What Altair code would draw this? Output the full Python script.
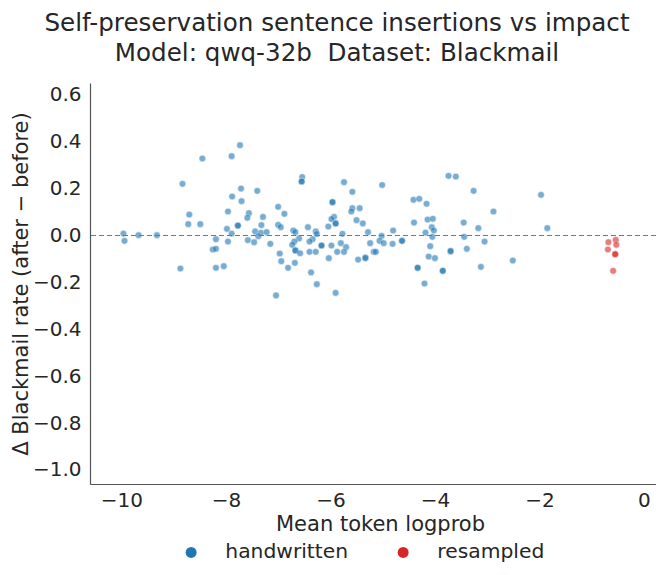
import altair as alt
import pandas as pd

# Handwritten insertions: mean token logprob (x) and change in blackmail rate (y)
hw_x = [-9.96, -9.94, -9.67, -9.32, -8.45, -8.83, -8.70, -8.72, -8.49, -8.87,
        -8.19, -8.25, -8.19, -8.19, -8.04, -7.96, -7.98, -7.96,
        -7.73, -7.89, -7.71, -7.88, -7.70, -7.40, -7.56, -7.59, -7.29,
        -7.77, -7.77, -7.89, -7.58, -7.46, -7.44, -7.32, -7.33, -7.38, -7.22,
        -7.15, -7.00, -6.88, -7.00, -6.95, -6.97, -6.94, -6.81, -7.04,
        -6.54, -6.55, -6.55, -6.71, -6.67, -6.60, -6.69, -6.73, -6.67, -6.67,
        -6.58, -6.68, -6.43, -6.28, -6.26, -6.34, -6.40, -6.40, -6.28, -6.37,
        -6.26, -6.17, -6.17, -5.96, -5.96, -5.93, -5.98, -5.90, -5.90, -6.04,
        -5.98, -6.03, -5.87, -5.80, -5.77, -5.90, -5.74,
        -5.58, -5.58, -5.60, -5.44, -5.50, -5.38, -5.70, -5.74, -5.28, -5.24,
        -5.47, -5.33, -5.33, -5.17, -5.13, -5.01, -5.02, -5.06, -4.98, -4.81,
        -4.80, -4.63, -4.63, -4.41, -4.30, -4.16, -4.40, -4.14, -4.04, -4.06,
        -4.02, -4.18, -4.05, -4.09, -4.12, -4.00, -4.33, -4.33, -4.20, -3.85,
        -3.85, -3.70, -3.70, -3.74, -3.60,
        -3.26, -2.88, -3.45, -3.17, -3.44, -3.05, -3.39, -3.12, -2.51, -1.97, -1.85]
hw_y = [0.008, -0.023, 0.001, 0.001, 0.328, 0.220, 0.089, 0.048, 0.048, -0.141,
        -0.016, -0.060, -0.057, -0.138, -0.131, 0.102, 0.028, -0.026,
        0.385, 0.338, 0.200, 0.166, 0.146, 0.190, 0.095, 0.075, 0.079,
        0.042, 0.042, 0.008, -0.020, -0.029, 0.017, 0.044, 0.011, -0.003, 0.014,
        -0.036, 0.122, 0.092, 0.045, 0.035, -0.077, -0.110, -0.138, -0.256,
        0.249, 0.230, 0.230, 0.021, 0.014, -0.013, -0.026, -0.040, -0.064, -0.064,
        -0.076, -0.117, 0.035, 0.017, 0.006, -0.016, -0.026, -0.070, -0.070, -0.158,
        -0.208, -0.043, -0.043, 0.142, 0.142, 0.079, 0.070, 0.051, 0.051, 0.038,
        -0.043, -0.097, -0.070, -0.033, 0.007, -0.245, 0.227,
        0.186, 0.116, 0.102, 0.116, 0.065, 0.051, -0.050, -0.070, 0.014, -0.033,
        -0.103, -0.096, -0.096, -0.070, -0.070, 0.215, -0.002, -0.023, -0.033, -0.036,
        0.021, -0.023, -0.023, 0.152, 0.156, 0.135, 0.055, 0.068, 0.071, 0.035,
        0.021, 0.012, -0.006, -0.046, -0.090, -0.097, -0.138, -0.138, -0.205, -0.151,
        -0.151, -0.067, -0.067, 0.254, 0.251,
        0.190, 0.102, 0.055, 0.031, -0.006, -0.026, -0.057, -0.134, -0.107, 0.173, 0.031]

# Resampled insertions
rs_x = [-0.68, -0.54, -0.53, -0.69, -0.55, -0.55, -0.59]
rs_y = [-0.029, -0.019, -0.040, -0.060, -0.080, -0.080, -0.151]

categories = ["handwritten", "resampled"]
palette = ["#1f77b4", "#d62728"]

x_ticks = [-10, -8, -6, -4, -2, 0]
y_ticks = [-1.0, -0.8, -0.6, -0.4, -0.2, 0.0, 0.2, 0.4, 0.6]

title_lines = ["Self-preservation sentence insertions vs impact",
               "Model: qwq-32b\u00a0 Dataset: Blackmail"]

df = pd.DataFrame({
    "logprob": hw_x + rs_x,
    "delta": hw_y + rs_y,
    "source": [categories[0]] * len(hw_x) + [categories[1]] * len(rs_x),
})

FONT = "DejaVu Sans"
TXT = "#262626"

x_enc = alt.X(
    "logprob:Q",
    scale=alt.Scale(domain=[-10.6, 0.23], nice=False, zero=False),
    axis=alt.Axis(title="Mean token logprob", values=x_ticks, format="d",
                  titleX=290),
)
y_enc = alt.Y(
    "delta:Q",
    scale=alt.Scale(domain=[-1.06, 0.65], nice=False, zero=False),
    axis=alt.Axis(title="\u0394 Blackmail rate (after \u2212 before)",
                  values=y_ticks, format=".1f"),
)

points = alt.Chart(df).mark_circle(
    size=45, opacity=0.6, stroke="white", strokeWidth=0.5
).encode(
    x=x_enc,
    y=y_enc,
    color=alt.Color(
        "source:N",
        scale=alt.Scale(domain=categories, range=palette),
        legend=alt.Legend(
            title=None, orient="none", direction="horizontal",
            legendX=91, legendY=459, symbolType="circle", symbolSize=120,
            symbolOpacity=1, symbolStrokeWidth=0, labelFontSize=20.3,
            labelFont=FONT, labelColor=TXT, labelOffset=24, columnPadding=44,
            padding=0,
        ),
    ),
)

zero_line = alt.Chart(pd.DataFrame({"y": [0.0]})).mark_rule(
    color="#777777", strokeDash=[5, 3], strokeWidth=1.1
).encode(y="y:Q")

chart = alt.layer(points, zero_line).properties(
    width=566,
    height=401,
    title=alt.TitleParams(
        text=title_lines, fontSize=24.6, font=FONT, fontWeight="normal",
        color=TXT, anchor="middle", dx=-36, offset=16, lineHeight=30,
    ),
    autosize=alt.AutoSizeParams(type="none"),
    padding={"left": 82, "top": 75, "right": 0, "bottom": 83},
).configure_view(
    stroke=None
).configure_axis(
    grid=False, ticks=False, domainColor="#555555", domainWidth=1.2,
    labelFont=FONT, labelFontSize=20, labelColor=TXT,
    titleFont=FONT, titleFontSize=21, titleColor=TXT, titleFontWeight="normal",
).configure_axisX(
    labelPadding=6, titlePadding=3,
).configure_axisY(
    labelPadding=9, titlePadding=1,
)

chart.save("out.html", embed_options={"renderer": "svg", "actions": False})
